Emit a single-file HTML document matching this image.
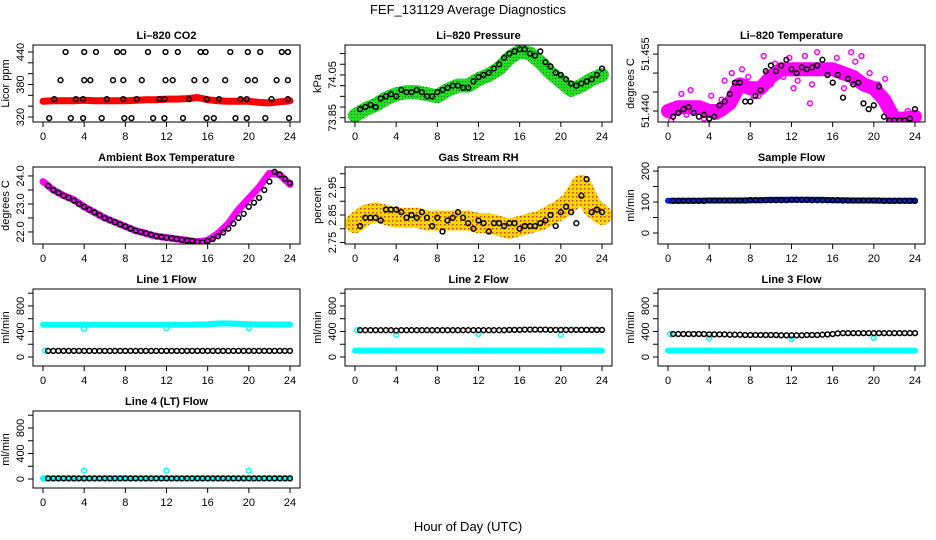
<!DOCTYPE html>
<html><head><meta charset="utf-8">
<style>
html,body{margin:0;padding:0;background:#fff;}
svg{display:block;font-family:"Liberation Sans",sans-serif;}
</style></head>
<body>
<svg id="chart" width="936" height="540" viewBox="0 0 936 540" xmlns="http://www.w3.org/2000/svg">
<defs>
<pattern id="gdot" width="3" height="3" patternUnits="userSpaceOnUse"><rect width="3" height="3" fill="#22dd22"/><rect width="1" height="1" fill="#117711"/></pattern>
<pattern id="rhdot" width="4" height="4" patternUnits="userSpaceOnUse"><rect width="4" height="4" fill="#f5d800"/><rect width="1.5" height="1.5" fill="#e03010"/></pattern>
</defs>
<text x="468" y="14" text-anchor="middle" font-size="13">FEF_131129  Average Diagnostics</text>
<text x="468" y="531" text-anchor="middle" font-size="13">Hour of Day (UTC)</text>
</svg>
<script>
// ---- data ----
const hourly = [0,1,2,3,4,5,6,7,8,9,10,11,12,13,14,15,16,17,18,19,20,21,22,23,24];
const halfHours = [0.5,1,1.5,2,2.5,3,3.5,4,4.5,5,5.5,6,6.5,7,7.5,8,8.5,9,9.5,10,10.5,11,11.5,12,12.5,13,13.5,14,14.5,15,15.5,16,16.5,17,17.5,18,18.5,19,19.5,20,20.5,21,21.5,22,22.5,23,23.5,24];
const xTicks = [0,4,8,12,16,20,24];

const co2Band = [349,350,350,350,351,350,350,350,350,351,352,352,353,353,354,356,352,350,349,349,349,347,346,348,350];
const co2BlackH = [2.2,4,5.15,7.2,7.8,10.2,11.9,13.1,15.3,15.8,18.2,19.9,21.1,23.2,23.8, 1.7,4,4.6,6.8,7.8,9.6,11.9,12.6,14.7,15.8,17.7,19.9,20.6,22.7,23.8, 1.1,3.2,3.9,6.2,7.8,9.1,11.3,11.8,14.2,15.9,17.1,19.2,19.8,22.2,23.8, 0.6,2.7,3.9,5.7,7.9,8.6,10.7,11.8,13.6,15.9,16.6,18.7,19.8,21.6,23.9];
const co2BlackV = [440,440,440,440,440,440,440,440,440,440,440,440,440,440,440, 388,388,388,388,388,388,388,388,388,388,388,388,388,388,388, 353,353,353,353,353,353,353,353,353,353,353,353,353,353,353, 318,318,318,318,318,318,318,318,318,318,318,318,318,318,318];

const presBand = [73.86,73.89,73.91,73.94,73.96,73.97,73.97,73.96,73.95,73.98,74.00,74.00,74.03,74.05,74.08,74.13,74.16,74.15,74.11,74.06,74.02,73.98,74.00,74.03,74.05];
const presBlack = [73.89,73.90,73.91,73.90,73.94,73.95,73.96,73.95,73.98,73.97,73.97,73.98,73.97,73.95,73.95,73.97,73.98,73.99,74.00,74.00,73.99,73.99,74.02,74.04,74.05,74.06,74.08,74.10,74.13,74.15,74.16,74.17,74.17,74.15,74.14,74.16,74.11,74.09,74.06,74.05,74.03,74.01,74.00,74.01,74.02,74.03,74.05,74.08];

const tempBand = [51.4400,51.4410,51.4410,51.4410,51.4400,51.4400,51.4420,51.4470,51.4460,51.4460,51.4490,51.4510,51.4510,51.4510,51.4510,51.4510,51.4510,51.4500,51.4490,51.4470,51.4460,51.4430,51.4380,51.4380,51.4385];
const tempPinkH = [0.3,1.3,2.2,3.5,4.2,4.8,5.5,6.2,6.7,7.2,7.8,8.3,9.3,9.6,10.4,11.2,11.8,12.6,13.3,13.8,14.5,15.2,15.7,16.4,17.1,17.8,18.2,18.8,19.6,20.4,21.1,21.6,22.4,23.3,23.9,1.8,3.0,5.2,8.8,10.0,12.2,14.0,16.8,19.0,20.8];
const tempPinkV = [51.4375,51.4445,51.4455,51.4380,51.4440,51.4385,51.4480,51.4500,51.4465,51.4510,51.4490,51.4440,51.4545,51.4500,51.4525,51.4490,51.4540,51.4480,51.4545,51.4420,51.4555,51.4515,51.4500,51.4540,51.4460,51.4555,51.4530,51.4545,51.4500,51.4470,51.4485,51.4410,51.4390,51.4400,51.4385,51.4390,51.4420,51.4430,51.4440,51.4470,51.4460,51.4470,51.4490,51.4460,51.4450];
const tempBlack = [51.4385,51.4395,51.4405,51.4410,51.4395,51.4385,51.4390,51.4380,51.4385,51.4415,51.4425,51.4445,51.4475,51.4475,51.4425,51.4425,51.4440,51.4455,51.4505,51.4520,51.4505,51.4520,51.4535,51.4510,51.4500,51.4515,51.4510,51.4515,51.4520,51.4535,51.4495,51.4475,51.4495,51.4435,51.4485,51.4470,51.4475,51.4420,51.4405,51.4415,51.4465,51.4385,51.4375,51.4375,51.4375,51.4375,51.4380,51.4405];

const ambBand = [23.80,23.50,23.30,23.15,22.90,22.70,22.50,22.35,22.20,22.05,21.95,21.85,21.80,21.75,21.70,21.65,21.70,21.95,22.30,22.80,23.20,23.60,24.10,24.05,23.70];
const ambBlack = [23.65,23.50,23.40,23.30,23.22,23.12,23.00,22.90,22.80,22.70,22.60,22.50,22.42,22.35,22.27,22.20,22.12,22.05,22.00,21.95,21.90,21.85,21.82,21.80,21.78,21.75,21.72,21.70,21.68,21.65,21.63,21.68,21.75,21.85,21.98,22.12,22.30,22.50,22.65,22.90,23.05,23.22,23.50,23.80,24.15,24.05,23.90,23.75];

const rhBand = [2.82,2.85,2.86,2.85,2.84,2.84,2.84,2.83,2.83,2.83,2.83,2.83,2.82,2.82,2.81,2.80,2.81,2.82,2.83,2.85,2.87,2.90,2.96,2.88,2.85];
const rhBlack = [2.81,2.84,2.84,2.84,2.83,2.87,2.87,2.87,2.86,2.84,2.85,2.84,2.86,2.84,2.81,2.84,2.79,2.83,2.84,2.86,2.84,2.82,2.80,2.83,2.82,2.79,2.82,2.82,2.81,2.82,2.82,2.80,2.81,2.81,2.81,2.82,2.83,2.85,2.81,2.86,2.88,2.86,2.82,2.92,2.98,2.86,2.87,2.86];

const sampleBand = [104,104,104,104,105,105,105,105,106,106,107,107,107,107,107,107,106,106,105,105,105,104,104,104,104];
const sampleBlack = [104,104,104,104,104,104,104,105,105,105,105,105,105,105,105,106,106,106,106,106,106,106,106,107,107,107,107,106,106,106,106,106,106,105,105,105,105,105,105,105,105,104,104,104,104,104,104,104];

const line1Cyan = [505,505,505,505,505,505,505,505,505,505,505,505,505,505,505,510,515,525,525,520,515,510,510,510,510];
const line1Black = [95,95,95,95,95,95,95,95,95,95,95,95,95,95,95,95,95,95,95,95,95,95,95,95,95,95,95,95,95,95,95,95,95,95,95,95,95,95,95,95,95,95,95,95,95,95,95,95];
const line1OutH = [0.2,4,12,20];
const line1OutV = [100,440,450,450];

const line2Cyan = [100,100,100,100,100,100,100,100,100,100,100,100,100,100,100,100,100,100,100,100,100,100,100,100,100];
const line2Black = [420,420,420,420,420,420,420,415,420,420,420,420,420,420,420,420,420,420,420,420,420,420,420,420,420,420,420,420,420,425,425,425,430,430,430,430,430,425,425,425,425,425,425,425,425,425,425,425];
const line2OutH = [0.2,4,12,20];
const line2OutV = [420,350,360,350];

const line3Cyan = [100,100,100,100,100,100,100,100,100,100,100,100,100,100,100,100,100,100,100,100,100,100,100,100,100];
const line3Black = [360,360,360,360,360,360,360,355,355,355,355,350,350,350,345,345,345,345,345,345,345,340,340,340,340,340,345,345,345,350,355,360,370,375,375,375,375,375,375,375,375,375,375,375,375,375,375,375];
const line3OutH = [0.2,4,12,20];
const line3OutV = [360,300,280,300];

const line4Cyan = [10,10,10,10,10,10,10,10,10,10,10,10,10,10,10,10,10,10,10,10,10,10,10,10,10];
const line4Black = [10,10,10,10,10,10,10,10,10,10,10,10,10,10,10,10,10,10,10,10,10,10,10,10,10,10,10,10,10,10,10,10,10,10,10,10,10,10,10,10,10,10,10,10,10,10,10,10];
const line4OutH = [0.2,4,12,20];
const line4OutV = [10,130,130,130];

// ---- drawing ----
const svg = document.getElementById('chart');
const NS = 'http://www.w3.org/2000/svg';
function mk(tag, attrs, parent){
  const e = document.createElementNS(NS, tag);
  for (const k in attrs) e.setAttribute(k, attrs[k]);
  (parent||svg).appendChild(e);
  return e;
}
const colOff = [0,312,625];

function panel(cfg){
  const off = colOff[cfg.col];
  const top = 45 + 122*cfg.row, bot = top + 77;
  const left = 33 + off, right = 300 + off;
  const g = mk('g', {});
  
  
  const xs = h => 43 + off + h*247/24;
  const ys = v => top + (cfg.yTop - v)/(cfg.yTop - cfg.yBot)*77;
  const cid = 'clip-' + cfg.name;
  const cp = mk('clipPath', {id: cid}, g);
  mk('rect', {x:left, y:top, width:right-left, height:bot-top}, cp);
  const dg = mk('g', {'clip-path':'url(#'+cid+')'}, g);
  (cfg.bands||[]).forEach(b=>{
    const pts = hourly.map((h,i)=>xs(h).toFixed(1)+','+ys(b.v[i]).toFixed(1)).join(' ');
    const pl = mk('polyline', {points:pts, fill:'none', stroke:b.color, 'stroke-width':b.w, 'stroke-linecap':'round', 'stroke-linejoin':'round'}, dg);
    
    
  });
  (cfg.points||[]).forEach(p=>{
    p.h.forEach((h,i)=>{
      const c = mk('circle', {cx:xs(h).toFixed(1), cy:ys(p.v[i]).toFixed(1), r:p.r||2.4, fill:'none', stroke:p.color, 'stroke-width':p.sw||1.5}, dg);
      
      
    });
  });
  const box = mk('rect', {x:left, y:top, width:right-left, height:bot-top, fill:'none', stroke:'#000', 'stroke-width':1}, g);
  
  
  const t = mk('text', {x:(left+right)/2, y:top-6, 'text-anchor':'middle', 'font-size':11, 'font-weight':'bold'}, g);
  t.textContent = cfg.title;
  
  
  mk('line', {x1:xs(0), x2:xs(24), y1:bot, y2:bot, stroke:'#000'}, g);
  xTicks.forEach(h=>{
    mk('line', {x1:xs(h), x2:xs(h), y1:bot, y2:bot+5, stroke:'#000'}, g);
    const l = mk('text', {x:xs(h), y:bot+18, 'text-anchor':'middle', 'font-size':11}, g);
    l.textContent = h;
    
    
  });
  const yt = cfg.yTicks;
  mk('line', {x1:left, x2:left, y1:ys(yt[0]), y2:ys(yt[yt.length-1]), stroke:'#000'}, g);
  yt.forEach(v=>{
    mk('line', {x1:left-5, x2:left, y1:ys(v), y2:ys(v), stroke:'#000'}, g);
  });
  cfg.yLabels.forEach(v=>{
    const y = ys(v), x = left-9;
    const l = mk('text', {x:x, y:y, 'text-anchor':'middle', 'font-size':11, transform:'rotate(-90 '+x+' '+y+')'}, g);
    l.textContent = cfg.fmt ? cfg.fmt(v) : v;
    
    
  });
  const yl = mk('text', {x:left-24, y:(top+bot)/2, 'text-anchor':'middle', 'font-size':11, transform:'rotate(-90 '+(left-24)+' '+((top+bot)/2)+')'}, g);
  yl.textContent = cfg.ylab;
  
  
}

const flowTicks = [0,200,400,600,800,1000];
const flowLabels = [0,400,800];

panel({name:'co2', col:0,row:0,title:'Li\u2013820 CO2', ylab:'Licor ppm', yTop:452.9, yBot:310.8,
  yTicks:[320,340,360,380,400,420,440], yLabels:[320,380,440],
  bands:[{v:co2Band,color:'#ff0000',w:7}],
  points:[{kind:'black',h:co2BlackH,v:co2BlackV,color:'#000'}]});
panel({name:'pressure', col:1,row:0,title:'Li\u2013820 Pressure', ylab:'kPa', yTop:74.190, yBot:73.830,
  yTicks:[73.85,73.90,73.95,74.00,74.05,74.10,74.15], yLabels:[73.85,74.05], fmt:v=>v.toFixed(2),
  bands:[{v:presBand,color:'url(#gdot)',w:14}],
  points:[{kind:'black',h:halfHours,v:presBlack,color:'#000'}]});
panel({name:'temperature', col:2,row:0,title:'Li\u2013820 Temperature', ylab:'degrees C', yTop:51.4574, yBot:51.4371,
  yTicks:[51.440,51.445,51.450,51.455], yLabels:[51.440,51.455], fmt:v=>v.toFixed(3),
  bands:[{v:tempBand,color:'#ff00ff',w:14}],
  points:[{kind:'pink',h:tempPinkH,v:tempPinkV,color:'#ff00ff'},{kind:'black',h:halfHours,v:tempBlack,color:'#000'}]});
panel({name:'ambient-box', col:0,row:1,title:'Ambient Box Temperature', ylab:'degrees C', yTop:24.32, yBot:21.57,
  yTicks:[22.0,22.5,23.0,23.5,24.0], yLabels:[22.0,23.0,24.0], fmt:v=>v.toFixed(1),
  bands:[{v:ambBand,color:'#ff00ff',w:7}],
  points:[{kind:'black',h:halfHours,v:ambBlack,color:'#000'}]});
panel({name:'gas-rh', col:1,row:1,title:'Gas Stream RH', ylab:'percent', yTop:3.0245, yBot:2.7445,
  yTicks:[2.75,2.80,2.85,2.90,2.95,3.00], yLabels:[2.75,2.85,2.95], fmt:v=>v.toFixed(2),
  bands:[{v:rhBand,color:'url(#rhdot)',w:20}],
  points:[{kind:'black',h:halfHours,v:rhBlack,color:'#000'}]});
panel({name:'sample-flow', col:2,row:1,title:'Sample Flow', ylab:'ml/min', yTop:213, yBot:-35.5,
  yTicks:[0,50,100,150,200], yLabels:[0,100,200],
  bands:[{v:sampleBand,color:'#0020e0',w:6}],
  points:[{kind:'black',h:halfHours,v:sampleBlack,color:'#000'}]});
panel({name:'line1-flow', col:0,row:2,title:'Line 1 Flow', ylab:'ml/min', yTop:1066, yBot:-141,
  yTicks:flowTicks, yLabels:flowLabels,
  bands:[{v:line1Cyan,color:'#00ffff',w:6}],
  points:[{kind:'cyan',h:line1OutH,v:line1OutV,color:'#00ffff'},{kind:'black',h:halfHours,v:line1Black,color:'#000'}]});
panel({name:'line2-flow', col:1,row:2,title:'Line 2 Flow', ylab:'ml/min', yTop:1066, yBot:-141,
  yTicks:flowTicks, yLabels:flowLabels,
  bands:[{v:line2Cyan,color:'#00ffff',w:6}],
  points:[{kind:'cyan',h:line2OutH,v:line2OutV,color:'#00ffff'},{kind:'black',h:halfHours,v:line2Black,color:'#000'}]});
panel({name:'line3-flow', col:2,row:2,title:'Line 3 Flow', ylab:'ml/min', yTop:1066, yBot:-141,
  yTicks:flowTicks, yLabels:flowLabels,
  bands:[{v:line3Cyan,color:'#00ffff',w:6}],
  points:[{kind:'cyan',h:line3OutH,v:line3OutV,color:'#00ffff'},{kind:'black',h:halfHours,v:line3Black,color:'#000'}]});
panel({name:'line4-flow', col:0,row:3,title:'Line 4 (LT) Flow', ylab:'ml/min', yTop:1066, yBot:-141,
  yTicks:flowTicks, yLabels:flowLabels,
  bands:[{v:line4Cyan,color:'#00ffff',w:6}],
  points:[{kind:'cyan',h:line4OutH,v:line4OutV,color:'#00ffff'},{kind:'black',h:halfHours,v:line4Black,color:'#000'}]});
</script>
</body></html>
